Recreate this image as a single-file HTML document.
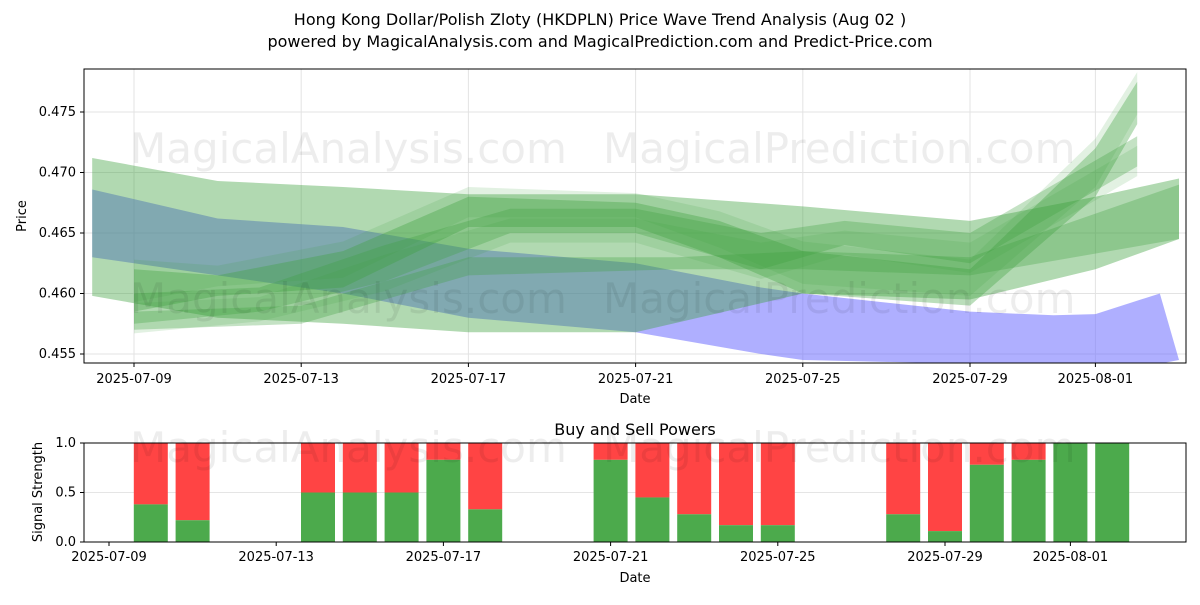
<!DOCTYPE html>
<html><head><meta charset="utf-8">
<style>
body{margin:0;background:#fff;font-family:"Liberation Sans","DejaVu Sans",sans-serif;}
svg text{font-family:"DejaVu Sans","Liberation Sans",sans-serif;}
</style></head>
<body>
<svg id="chart" width="1200" height="600" viewBox="0 0 1200 600" xmlns="http://www.w3.org/2000/svg">
<text x="600" y="25" text-anchor="middle" font-size="16">Hong Kong Dollar/Polish Zloty (HKDPLN) Price Wave Trend Analysis (Aug 02 )</text>
<text x="600" y="47" text-anchor="middle" font-size="16">powered by MagicalAnalysis.com and MagicalPrediction.com and Predict-Price.com</text>
<g id="topPanel"></g>
<g id="botPanel"></g>
</svg>
<script>
// ---- data ----
const priceTicks=[0.455,0.460,0.465,0.470,0.475];
const dateTicks=["2025-07-09","2025-07-13","2025-07-17","2025-07-21","2025-07-25","2025-07-29","2025-08-01"];
const blueDates=["2025-07-08","2025-07-11","2025-07-14","2025-07-17","2025-07-21","2025-07-24","2025-07-25","2025-07-29","2025-07-31","2025-08-01","2025-08-02T13:00Z","2025-08-03"];
const blueUpper=[0.4686,0.4662,0.4655,0.4637,0.4625,0.4605,0.4600,0.4585,0.4582,0.4583,0.4600,0.4545];
const blueLower=[0.4630,0.4615,0.4600,0.4580,0.4568,0.4550,0.4545,0.4542,0.4542,0.4542,0.4542,0.4545];
const bandADates=["2025-07-08","2025-07-11","2025-07-14","2025-07-17","2025-07-21","2025-07-25","2025-07-29","2025-08-01","2025-08-03"];
const bandAUpper=[0.4712,0.4693,0.4688,0.4682,0.4682,0.4672,0.4660,0.4680,0.4695];
const bandALower=[0.4598,0.4580,0.4575,0.4568,0.4568,0.4600,0.4595,0.4620,0.4645];
const bandBDates=["2025-07-09","2025-07-11","2025-07-14","2025-07-17","2025-07-21","2025-07-23","2025-07-25","2025-07-29","2025-08-01","2025-08-02"];
const bandBUpper=[0.4620,0.4615,0.4635,0.4680,0.4675,0.4660,0.4635,0.4620,0.4720,0.4775];
const bandBLower=[0.4585,0.4598,0.4605,0.4655,0.4655,0.4630,0.4600,0.4590,0.4680,0.4740];
const bandCDates=["2025-07-09","2025-07-12","2025-07-15","2025-07-18","2025-07-21","2025-07-24","2025-07-26","2025-07-29","2025-08-02"];
const bandCUpper=[0.4600,0.4605,0.4640,0.4670,0.4670,0.4650,0.4660,0.4650,0.4730];
const bandCLower=[0.4575,0.4585,0.4610,0.4650,0.4650,0.4620,0.4640,0.4625,0.4705];
const bandDDates=["2025-07-09","2025-07-13","2025-07-17","2025-07-22","2025-07-25","2025-07-29","2025-08-03"];
const bandDUpper=[0.4585,0.4590,0.4630,0.4630,0.4635,0.4630,0.4690];
const bandDLower=[0.4570,0.4575,0.4615,0.4620,0.4620,0.4615,0.4645];
const barDates=["2025-07-10","2025-07-11","2025-07-14","2025-07-15","2025-07-16","2025-07-17","2025-07-18","2025-07-21","2025-07-22","2025-07-23","2025-07-24","2025-07-25","2025-07-28","2025-07-29","2025-07-30","2025-07-31","2025-08-01","2025-08-02"];
const buyValues=[0.38,0.22,0.5,0.5,0.5,0.83,0.33,0.83,0.45,0.28,0.17,0.17,0.28,0.11,0.78,0.83,1.0,1.0];
const signalTicks=[0.0,0.5,1.0];

const NS="http://www.w3.org/2000/svg";
function mk(tag,attrs,parent){const e=document.createElementNS(NS,tag);for(const k in attrs)e.setAttribute(k,attrs[k]);parent.appendChild(e);return e;}
const dayMs=86400000, d0=Date.parse("2025-07-09");
function dayIdx(s){return (Date.parse(s)-d0)/dayMs;}
const xTop=s=>134+dayIdx(s)*41.8;
const yTop=v=>354-(v-0.455)/0.005*60.5;
const xBot=s=>109+dayIdx(s)*41.8;
const yBot=v=>542-v*99;

const topG=document.getElementById('topPanel'), botG=document.getElementById('botPanel');
mk('rect',{x:84,y:69,width:1102,height:294,fill:'#fff'},topG);
priceTicks.forEach(v=>{const y=yTop(v);mk('line',{x1:84,x2:1186,y1:y,y2:y,stroke:'#e3e3e3'},topG);});
dateTicks.forEach(d=>{const x=xTop(d);mk('line',{x1:x,x2:x,y1:69,y2:363,stroke:'#e3e3e3'},topG);});
const clip=mk('clipPath',{id:'cp'},topG);mk('rect',{x:84,y:69,width:1102,height:294},clip);
const g=mk('g',{'clip-path':'url(#cp)'},topG);
function addBand(dates,up,lo,fill,name){
  let pts=dates.map((d,i)=>xTop(d)+','+yTop(up[i]));
  for(let i=dates.length-1;i>=0;i--)pts.push(xTop(dates[i])+','+yTop(lo[i]));
  const p=mk('polygon',{points:pts.join(' '),fill:fill},g);
  
  
}
addBand(blueDates,blueUpper,blueLower,'rgba(110,110,255,0.55)','blue-wave-band');
addBand(bandADates,bandAUpper,bandALower,'rgba(60,160,60,0.4)','green-wave-band-a');
addBand(bandBDates,bandBUpper,bandBLower,'rgba(60,160,60,0.35)','green-wave-band-b');
addBand(bandCDates,bandCUpper,bandCLower,'rgba(60,160,60,0.3)','green-wave-band-c');
addBand(bandDDates,bandDUpper,bandDLower,'rgba(60,160,60,0.3)','green-wave-band-d');
addBand(bandBDates,bandBUpper.map(v=>v+0.0008),bandBLower.map(v=>v+0.0008),'rgba(60,160,60,0.15)','green-wave-band-b2');
addBand(bandCDates,bandCUpper.map(v=>v-0.0008),bandCLower.map(v=>v-0.0008),'rgba(60,160,60,0.15)','green-wave-band-c2');

mk('text',{x:130,y:163,'font-size':42,fill:'rgba(0,0,0,0.07)'},topG).textContent='MagicalAnalysis.com';
mk('text',{x:603,y:163,'font-size':42,fill:'rgba(0,0,0,0.07)'},topG).textContent='MagicalPrediction.com';
mk('text',{x:130,y:313,'font-size':42,fill:'rgba(0,0,0,0.07)'},topG).textContent='MagicalAnalysis.com';
mk('text',{x:603,y:313,'font-size':42,fill:'rgba(0,0,0,0.07)'},topG).textContent='MagicalPrediction.com';
mk('rect',{x:84,y:69,width:1102,height:294,fill:'none',stroke:'#000','stroke-width':1},topG);
priceTicks.forEach(v=>{const y=yTop(v);mk('line',{x1:80,x2:84,y1:y,y2:y,stroke:'#000'},topG);
  const t=mk('text',{x:76,y:y+4,'text-anchor':'end','font-size':13},topG);t.textContent=v.toFixed(3);
  
  });
dateTicks.forEach(d=>{const x=xTop(d);mk('line',{x1:x,x2:x,y1:363,y2:367,stroke:'#000'},topG);
  const t=mk('text',{x:x,y:383,'text-anchor':'middle','font-size':13},topG);t.textContent=d;
  
  });
mk('text',{x:635,y:403,'text-anchor':'middle','font-size':13},topG).textContent='Date';
mk('text',{x:26,y:216,'text-anchor':'middle','font-size':13,transform:'rotate(-90 26 216)'},topG).textContent='Price';

// bottom
mk('text',{x:635,y:435,'text-anchor':'middle','font-size':16},botG).textContent='Buy and Sell Powers';
mk('rect',{x:84,y:443,width:1102,height:99,fill:'#fff'},botG);
signalTicks.forEach(v=>{const y=yBot(v);mk('line',{x1:84,x2:1186,y1:y,y2:y,stroke:'#e5e5e5'},botG);
  mk('line',{x1:80,x2:84,y1:y,y2:y,stroke:'#000'},botG);
  const t=mk('text',{x:76,y:y+4,'text-anchor':'end','font-size':13},botG);t.textContent=v.toFixed(1);
  
  });
barDates.forEach((d,i)=>{const x=xBot(d)-17;const b=buyValues[i];
  const r=mk('rect',{x:x,y:yBot(1),width:34,height:yBot(b)-yBot(1),fill:'#ff4444'},botG);
  
  
  const gr=mk('rect',{x:x,y:yBot(b),width:34,height:yBot(0)-yBot(b),fill:'#4caa4c'},botG);
  
  });
mk('text',{x:130,y:462,'font-size':42,fill:'rgba(0,0,0,0.07)'},botG).textContent='MagicalAnalysis.com';
mk('text',{x:603,y:462,'font-size':42,fill:'rgba(0,0,0,0.07)'},botG).textContent='MagicalPrediction.com';
mk('rect',{x:84,y:443,width:1102,height:99,fill:'none',stroke:'#000'},botG);
dateTicks.forEach(d=>{const x=xBot(d);mk('line',{x1:x,x2:x,y1:542,y2:546,stroke:'#000'},botG);
  const t=mk('text',{x:x,y:561,'text-anchor':'middle','font-size':13},botG);t.textContent=d;
  
  });
mk('text',{x:635,y:582,'text-anchor':'middle','font-size':13},botG).textContent='Date';
mk('text',{x:42,y:492,'text-anchor':'middle','font-size':13,transform:'rotate(-90 42 492)'},botG).textContent='Signal Strength';
</script>
</body></html>
